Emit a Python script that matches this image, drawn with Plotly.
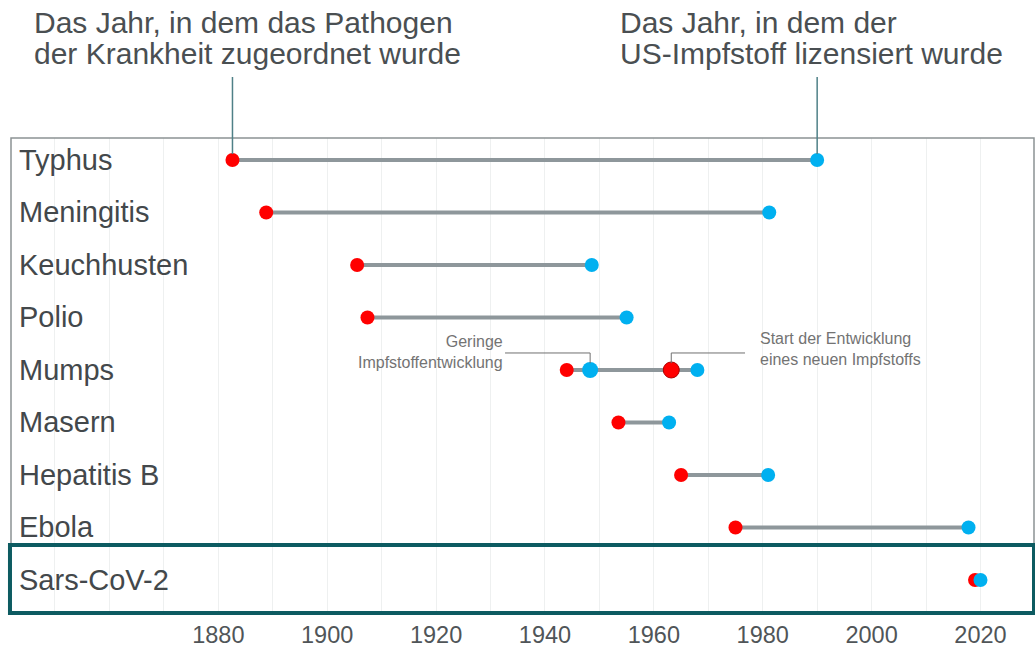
import plotly.graph_objects as go

diseases = ["Typhus", "Meningitis", "Keuchhusten", "Polio", "Mumps",
            "Masern", "Hepatitis B", "Ebola", "Sars-CoV-2"]
pathogen_year = [1882.6, 1888.8, 1905.5, 1907.4, 1944.0, 1953.5, 1965.0, 1975.0, 2019.0]
vaccine_year = [1990.0, 1981.2, 1948.6, 1955.0, 1968.0, 1962.8, 1981.0, 2017.8, 2020.0]
mumps_low_dev_year = 1948.3
mumps_new_start_year = 1963.2
x_ticks = [1880, 1900, 1920, 1940, 1960, 1980, 2000, 2020]

RED = "#ff0000"
BLUE = "#00b0f0"
LINE = "#8e979b"
TEXT = "#43484b"
FONT = "Liberation Sans, Arial, sans-serif"

fig = go.Figure()

lx, ly = [], []
for d, a, b in zip(diseases, pathogen_year, vaccine_year):
    lx += [a, b, None]
    ly += [d, d, None]
fig.add_trace(go.Scatter(x=lx, y=ly, mode="lines", line=dict(color=LINE, width=4),
                         hoverinfo="skip", showlegend=False))

fig.add_trace(go.Scatter(x=pathogen_year, y=diseases, mode="markers",
                         marker=dict(color=RED, size=14), showlegend=False))
fig.add_trace(go.Scatter(x=vaccine_year, y=diseases, mode="markers",
                         marker=dict(color=BLUE, size=14), showlegend=False))
fig.add_trace(go.Scatter(x=[mumps_low_dev_year], y=["Mumps"], mode="markers",
                         marker=dict(color=BLUE, size=16), showlegend=False))
fig.add_trace(go.Scatter(x=[mumps_new_start_year], y=["Mumps"], mode="markers",
                         marker=dict(color=RED, size=16, line=dict(color="#b00000", width=1)),
                         showlegend=False))

annotations = []
for d in diseases:
    annotations.append(dict(x=0.006, xref="paper", y=d, yref="y", text=d, showarrow=False,
                            xanchor="left", yanchor="middle",
                            font=dict(family=FONT, size=29, color=TEXT)))

X0, X1 = 1841.92, 2029.83
def px2year(px):
    return 1880 + (px - 218.3) / 5.444
def py2paper(py):
    return (613 - py) / 475

top_font = dict(family=FONT, size=30, color="#4a4f52")
for txt, xl, yc in [("Das Jahr, in dem das Pathogen", 32, 22),
                    ("der Krankheit zugeordnet wurde", 32, 54),
                    ("Das Jahr, in dem der", 618, 22),
                    ("US-Impfstoff lizensiert wurde", 618, 54)]:
    annotations.append(dict(x=px2year(xl), xref="x", y=py2paper(yc), yref="paper",
                            text=txt, showarrow=False, xanchor="left", yanchor="middle",
                            font=top_font))

small_font = dict(family=FONT, size=16, color="#737373")
annotations.append(dict(x=px2year(505), xref="x", y=3.655, yref="y",
                        text="Geringe<br>Impfstoffentwicklung", align="right",
                        showarrow=False, xanchor="right", yanchor="middle", font=small_font))
annotations.append(dict(x=px2year(758), xref="x", y=3.6, yref="y",
                        text="Start der Entwicklung<br>eines neuen Impfstoffs", align="left",
                        showarrow=False, xanchor="left", yanchor="middle", font=small_font))

shapes = []
shapes.append(dict(type="rect", xref="paper", yref="paper", x0=0, x1=1, y0=0, y1=1,
                   line=dict(color="#8c9294", width=1.5), layer="above"))
shapes.append(dict(type="rect", xref="paper", yref="paper", x0=-0.001, x1=1.0,
                   y0=0, y1=py2paper(545), line=dict(color="#0d5b61", width=4), layer="above"))
lead = "#4f8087"
shapes.append(dict(type="line", xref="x", yref="paper", x0=pathogen_year[0], x1=pathogen_year[0],
                   y0=py2paper(77), y1=py2paper(154), line=dict(color=lead, width=1.5)))
shapes.append(dict(type="line", xref="x", yref="paper", x0=vaccine_year[0], x1=vaccine_year[0],
                   y0=py2paper(77), y1=py2paper(154), line=dict(color=lead, width=1.5)))
gl = "#707070"
shapes.append(dict(type="path", xref="x", yref="y",
                   path=f"M {px2year(505)} 3.676 L {mumps_low_dev_year} 3.676 L {mumps_low_dev_year} 3.87",
                   line=dict(color=gl, width=1)))
shapes.append(dict(type="path", xref="x", yref="y",
                   path=f"M {px2year(745)} 3.676 L {mumps_new_start_year} 3.676 L {mumps_new_start_year} 3.87",
                   line=dict(color=gl, width=1)))

fig.update_layout(
    width=1035, height=648,
    margin=dict(l=11, r=1, t=138, b=35, autoexpand=False),
    paper_bgcolor="white", plot_bgcolor="white",
    annotations=annotations, shapes=shapes,
    showlegend=False,
    xaxis=dict(range=[X0, X1], tickvals=x_ticks, showgrid=True, gridcolor="#eef0f0",
               gridwidth=1, zeroline=False, showline=False, automargin=False,
               ticks="outside", ticklen=1, tickcolor="rgba(0,0,0,0)",
               minor=dict(dtick=10, tick0=1880, showgrid=True, gridcolor="#eef0f0", gridwidth=1),
               tickfont=dict(family=FONT, size=23.5, color="#505558")),
    yaxis=dict(type="category", categoryorder="array", categoryarray=diseases,
               range=[8.629, -0.419], showticklabels=False, showgrid=False,
               zeroline=False, showline=False, automargin=False),
)

fig.write_html("out.html", config={"displayModeBar": False},
               post_script="document.body.style.margin='0';document.body.style.overflow='hidden';")
